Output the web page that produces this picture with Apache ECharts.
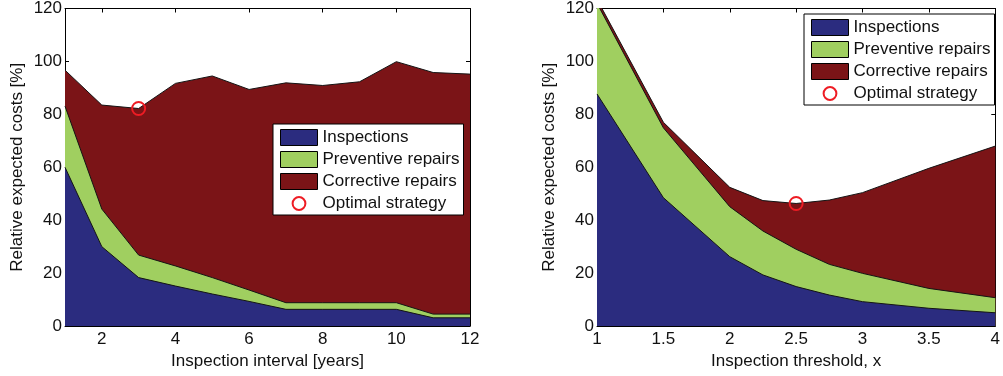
<!DOCTYPE html>
<html><head><meta charset="utf-8">
<script src="https://cdn.jsdelivr.net/npm/echarts@6/dist/echarts.min.js"></script>
<style>html,body{margin:0;padding:0;background:#fff}#c{width:1003px;height:376px}</style>
</head><body><div id="c"></div>
<script>
// ---- Left chart: inspection interval ----
const leftX = [1, 2, 3, 4, 5, 6, 7, 8, 9, 10, 11, 12];
const leftInspections = [60.0, 30.0, 18.3, 15.1, 12.1, 9.3, 6.3, 6.3, 6.3, 6.3, 3.1, 3.1];
const leftPreventive  = [23.1, 14.2, 8.5, 7.6, 6.2, 4.3, 2.5, 2.5, 2.5, 2.5, 1.4, 1.4];
const leftCorrective  = [13.6, 39.3, 55.4, 69.0, 76.2, 75.8, 83.1, 82.1, 83.5, 91.1, 91.3, 90.7];
const leftOptimal = [3, 82.2];
const leftTicksX = [2, 4, 6, 8, 10, 12];

// ---- Right chart: inspection threshold ----
const rightX = [1, 1.5, 2, 2.25, 2.5, 2.75, 3, 3.5, 4];
const rightInspections = [87.7, 48.5, 26.2, 19.3, 14.9, 11.7, 9.2, 6.7, 5.0];
const rightPreventive  = [34.3, 26.4, 18.9, 16.6, 14.1, 11.6, 10.7, 7.5, 5.7];
const rightCorrective  = [1.5, 2.1, 7.3, 11.5, 17.3, 24.3, 30.5, 45.4, 57.3];
const rightOptimal = [2.5, 46.3];

const names = ['Inspections', 'Preventive repairs', 'Corrective repairs', 'Optimal strategy'];
const colors = ['#2b2c7f', '#a0cf60', '#7b1417'];
const FONT = 'Liberation Sans, Arial, sans-serif';
const TXT = '#111';

function xAxes(min, max, interval, custom, name, gridIndex) {
  const lab = custom ? { customValues: custom } : {};
  const tick = custom ? { customValues: custom } : {};
  return [
    { type: 'value', gridIndex, position: 'bottom', min, max, interval,
      name, nameLocation: 'middle', nameGap: 24,
      nameTextStyle: { fontFamily: FONT, fontSize: 17, color: TXT },
      axisLine: { show: true, onZero: false, lineStyle: { color: '#000', width: 1 } },
      axisTick: Object.assign({ show: true, inside: true, length: 4, lineStyle: { color: '#000' } }, tick),
      axisLabel: Object.assign({ show: true, margin: 5, fontFamily: FONT, fontSize: 17, color: TXT }, lab),
      splitLine: { show: false } },
    { type: 'value', gridIndex, position: 'top', min, max, interval,
      axisLine: { show: true, onZero: false, lineStyle: { color: '#000', width: 1 } },
      axisTick: Object.assign({ show: true, inside: true, length: 4, lineStyle: { color: '#000' } }, tick),
      axisLabel: { show: false }, splitLine: { show: false } }
  ];
}
function yAxes(gridIndex) {
  return [
    { type: 'value', gridIndex, position: 'left', min: 0, max: 120, interval: 20,
      name: 'Relative expected costs [%]', nameLocation: 'middle', nameGap: 39, nameRotate: 90,
      nameTextStyle: { fontFamily: FONT, fontSize: 17, color: TXT },
      axisLine: { show: true, onZero: false, lineStyle: { color: '#000', width: 1 } },
      axisTick: { show: true, inside: true, length: 4, lineStyle: { color: '#000' } },
      axisLabel: { show: true, margin: 3, fontFamily: FONT, fontSize: 17, color: TXT },
      splitLine: { show: false } },
    { type: 'value', gridIndex, position: 'right', min: 0, max: 120, interval: 20,
      axisLine: { show: true, onZero: false, lineStyle: { color: '#000', width: 1 } },
      axisTick: { show: true, inside: true, length: 4, lineStyle: { color: '#000' } },
      axisLabel: { show: false }, splitLine: { show: false } }
  ];
}

// Layered areas: each layer is the cumulative sum, filled down to 0, drawn top layer first.
function chartSeries(xs, layers, optimal, xi, yi) {
  const cum = [];
  layers.forEach((vals, k) => {
    cum.push(vals.map((v, i) => (k ? cum[k - 1][i] : 0) + v));
  });
  const out = [];
  for (let k = layers.length - 1; k >= 0; k--) {
    out.push({
      name: names[k], type: 'line', xAxisIndex: xi, yAxisIndex: yi,
      data: xs.map((x, i) => [x, +cum[k][i].toFixed(2)]),
      symbol: 'none', showSymbol: false, clip: true,
      lineStyle: { color: '#141414', width: 1 },
      itemStyle: { color: colors[k] },
      areaStyle: { color: colors[k], opacity: 1, origin: 'start' },
      z: 2
    });
  }
  out.push({
    name: names[3], type: 'line', xAxisIndex: xi, yAxisIndex: yi,
    data: [optimal], symbol: 'circle', symbolSize: 13, showSymbol: true, clip: false,
    lineStyle: { color: 'rgba(0,0,0,0)', width: 0 },
    itemStyle: { color: 'rgba(0,0,0,0)', borderColor: '#ee1c24', borderWidth: 2 },
    z: 5
  });
  return out;
}

function legend(left, top) {
  return {
    orient: 'vertical', left, top, selectedMode: false,
    backgroundColor: '#fff', borderColor: '#000', borderWidth: 1,
    padding: [5, 4, 3, 7],
    itemWidth: 37, itemHeight: 16, itemGap: 5,
    textStyle: { fontFamily: FONT, fontSize: 17, color: TXT, lineHeight: 16 },
    data: [
      { name: names[0], icon: 'rect', itemStyle: { borderColor: '#000', borderWidth: 1 } },
      { name: names[1], icon: 'rect', itemStyle: { borderColor: '#000', borderWidth: 1 } },
      { name: names[2], icon: 'rect', itemStyle: { borderColor: '#000', borderWidth: 1 } },
      { name: names[3], itemStyle: { color: 'rgba(0,0,0,0)', borderColor: '#ee1c24', borderWidth: 2 },
        lineStyle: { color: 'rgba(0,0,0,0)', width: 0 } }
    ],
    z: 10
  };
}

const chart = echarts.init(document.getElementById('c'), null, { renderer: 'canvas' });
chart.setOption({
  animation: false,
  backgroundColor: '#fff',
  grid: [
    { left: 65, right: 533, top: 8, bottom: 50, containLabel: false },
    { left: 597, right: 1, top: 8, bottom: 50, containLabel: false }
  ],
  xAxis: [].concat(
    xAxes(1, 12, null, leftTicksX, 'Inspection interval [years]', 0),
    xAxes(1, 4, 0.5, null, 'Inspection threshold, x', 1)
  ),
  yAxis: [].concat(yAxes(0), yAxes(1)),
  legend: [legend(273, 124), legend(804, 14)],
  series: [].concat(
    chartSeries(leftX, [leftInspections, leftPreventive, leftCorrective], leftOptimal, 0, 0),
    chartSeries(rightX, [rightInspections, rightPreventive, rightCorrective], rightOptimal, 2, 2)
  )
});
</script>
</body></html>
